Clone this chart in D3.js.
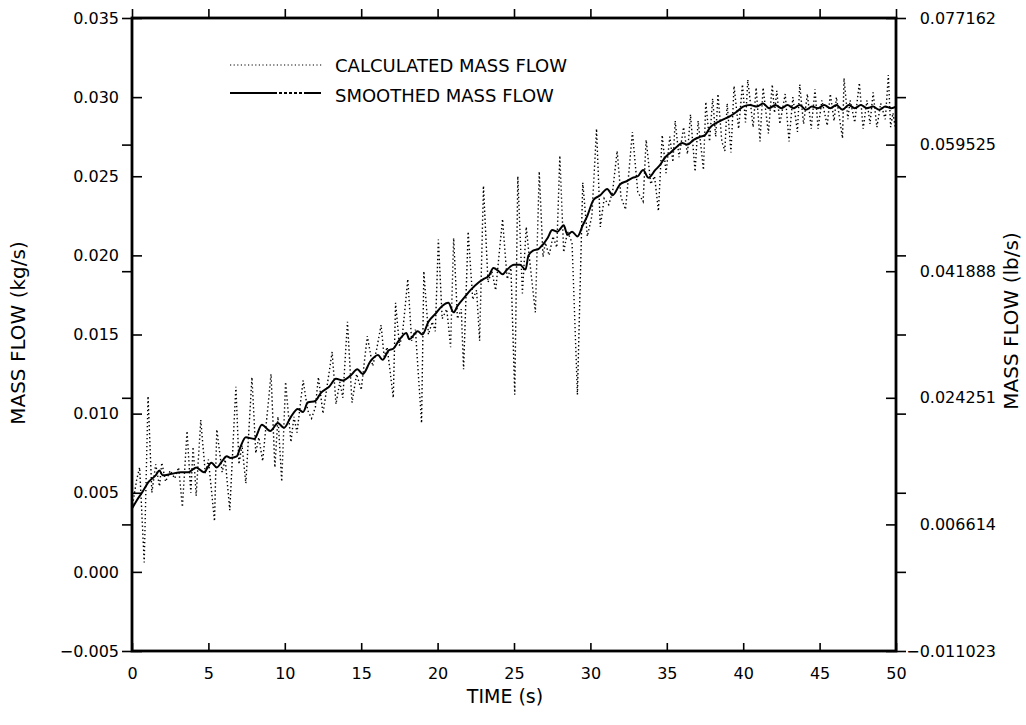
<!DOCTYPE html>
<html>
<head>
<meta charset="utf-8">
<script src="https://cdn.jsdelivr.net/npm/d3@7"></script>
<style>
  body { margin: 0; background: #fff; }
  text { font-family: "DejaVu Sans", sans-serif; fill: #000; }
</style>
</head>
<body>
<svg width="1026" height="725"></svg>
<script>
// calculated mass flow (kg/s) at peaks and troughs
const calcTime = [
  0.0, 0.3, 0.5, 0.8, 1.05, 1.3, 1.55, 1.8, 1.95, 2.2, 2.5, 2.8, 3.05, 3.3, 3.6, 3.85, 4.0, 4.2, 4.5, 4.8,
  5.0, 5.4, 5.55, 5.9, 6.1, 6.4, 6.8, 7.0, 7.2, 7.45, 7.85, 8.1, 8.3, 8.55, 9.1, 9.35, 9.55, 9.8, 10.05, 10.4,
  10.6, 10.8, 11.2, 11.5, 11.75, 12.0, 12.2, 12.5, 13.1, 13.35, 13.6, 13.8, 14.1, 14.4, 14.7, 15.0, 15.4, 15.75, 16.0, 16.3,
  16.5, 16.7, 17.1, 17.25, 17.5, 17.7, 18.05, 18.3, 18.55, 18.95, 19.1, 19.4, 19.65, 19.85, 20.05, 20.3, 20.6, 20.85, 21.05, 21.3,
  21.55, 21.7, 22.0, 22.3, 22.55, 22.75, 23.0, 23.3, 23.55, 23.8, 24.25, 24.55, 24.8, 25.05, 25.25, 25.55, 25.8, 26.1, 26.4, 26.65,
  26.9, 27.05, 27.3, 27.55, 27.8, 28.0, 28.25, 28.5, 28.8, 29.15, 29.5, 29.8, 30.1, 30.4, 30.65, 30.9, 31.2, 31.45, 31.75, 32.0,
  32.3, 32.75, 33.1, 33.45, 33.65, 33.95, 34.2, 34.45, 34.7, 34.95, 35.2, 35.4, 35.55, 35.8, 36.1, 36.35, 36.55, 36.85, 37.05, 37.4,
  37.55, 37.8, 38.0, 38.2, 38.35, 38.6, 38.8, 38.95, 39.2, 39.4, 39.7, 39.95, 40.15, 40.3, 40.65, 40.85, 41.1, 41.3, 41.65, 41.9,
  42.05, 42.2, 42.4, 42.75, 43.0, 43.25, 43.55, 43.7, 43.95, 44.2, 44.45, 44.7, 44.9, 45.15, 45.5, 45.7, 45.95, 46.1, 46.5, 46.6,
  46.85, 47.0, 47.3, 47.6, 47.85, 48.1, 48.3, 48.5, 48.75, 49.0, 49.3, 49.5, 49.65, 49.8, 50.0
];
const calcFlow = [
  0.0040, 0.0058, 0.0066, 0.0006, 0.0111, 0.0050, 0.0068, 0.0054, 0.0069, 0.0057, 0.0064, 0.0059, 0.0066, 0.0041, 0.0089, 0.0050, 0.0079, 0.0048, 0.0096, 0.0062,
  0.0071, 0.0032, 0.0090, 0.0063, 0.0071, 0.0039, 0.0117, 0.0068, 0.0080, 0.0056, 0.0123, 0.0075, 0.0085, 0.0070, 0.0125, 0.0066, 0.0098, 0.0057, 0.0120, 0.0082,
  0.0098, 0.0088, 0.0121, 0.0102, 0.0097, 0.0104, 0.0123, 0.0100, 0.0139, 0.0106, 0.0120, 0.0110, 0.0158, 0.0107, 0.0125, 0.0115, 0.0149, 0.0130, 0.0140, 0.0156,
  0.0136, 0.0142, 0.0110, 0.0170, 0.0143, 0.0150, 0.0185, 0.0146, 0.0153, 0.0094, 0.0190, 0.0150, 0.0158, 0.0152, 0.0210, 0.0160, 0.0166, 0.0142, 0.0211, 0.0160,
  0.0166, 0.0128, 0.0215, 0.0172, 0.0178, 0.0146, 0.0244, 0.0183, 0.0190, 0.0178, 0.0223, 0.0185, 0.0192, 0.0112, 0.0250, 0.0176, 0.0218, 0.0190, 0.0164, 0.0253,
  0.0199, 0.0208, 0.0200, 0.0212, 0.0205, 0.0263, 0.0202, 0.0215, 0.0208, 0.0112, 0.0246, 0.0212, 0.0225, 0.0280, 0.0218, 0.0236, 0.0232, 0.0240, 0.0266, 0.0237,
  0.0229, 0.0278, 0.0240, 0.0234, 0.0273, 0.0245, 0.0250, 0.0228, 0.0276, 0.0252, 0.0275, 0.0259, 0.0285, 0.0262, 0.0281, 0.0264, 0.0289, 0.0253, 0.0285, 0.0254,
  0.0297, 0.0272, 0.0299, 0.0275, 0.0302, 0.0272, 0.0266, 0.0296, 0.0265, 0.0307, 0.0280, 0.0308, 0.0284, 0.0311, 0.0281, 0.0306, 0.0272, 0.0306, 0.0277, 0.0308,
  0.0290, 0.0304, 0.0283, 0.0302, 0.0272, 0.0300, 0.0278, 0.0308, 0.0283, 0.0302, 0.0280, 0.0305, 0.0280, 0.0298, 0.0282, 0.0302, 0.0285, 0.0300, 0.0274, 0.0312,
  0.0286, 0.0298, 0.0284, 0.0309, 0.0280, 0.0298, 0.0283, 0.0303, 0.0281, 0.0296, 0.0286, 0.0314, 0.0281, 0.0290, 0.0278
];

// smoothed mass flow (kg/s)
const smoothTime = [
  0.0, 0.3, 0.65, 1.1, 1.55, 1.8, 2.0, 2.6, 3.2, 3.7, 4.2, 4.7, 5.2, 5.55, 5.9, 6.2, 6.45, 6.85, 7.1, 7.45,
  8.0, 8.5, 9.05, 9.55, 9.95, 10.4, 10.85, 11.2, 11.5, 12.0, 12.35, 12.9, 13.35, 13.8, 14.3, 14.75, 15.1, 15.6, 16.1, 16.4,
  16.8, 17.1, 17.45, 17.95, 18.15, 18.7, 19.0, 19.4, 19.85, 20.3, 20.7, 21.05, 21.3, 21.8, 22.15, 22.7, 23.0, 23.35, 23.65, 24.0,
  24.25, 24.55, 25.0, 25.4, 25.75, 25.95, 26.25, 26.6, 26.9, 27.2, 27.5, 27.85, 28.05, 28.25, 28.5, 28.8, 29.15, 29.5, 29.8, 30.2,
  30.65, 31.1, 31.45, 31.95, 32.4, 32.75, 33.1, 33.45, 33.8, 34.25, 34.55, 34.9, 35.25, 35.7, 36.0, 36.35, 36.75, 37.2, 37.5, 37.85,
  38.3, 38.7, 39.15, 39.6, 40.0, 40.45, 40.9, 41.3, 41.7, 42.1, 42.5, 42.9, 43.3, 43.7, 44.1, 44.5, 44.9, 45.3, 45.7, 46.1,
  46.5, 46.9, 47.3, 47.7, 48.1, 48.5, 48.9, 49.3, 49.7, 50.0
];
const smoothFlow = [
  0.0040, 0.0045, 0.0050, 0.0057, 0.0061, 0.0064, 0.0061, 0.0062, 0.0063, 0.0063, 0.0066, 0.0063, 0.0069, 0.0066, 0.0070, 0.0073, 0.0072, 0.0073, 0.0079, 0.0085,
  0.0084, 0.0093, 0.0089, 0.0094, 0.0091, 0.0098, 0.0103, 0.0101, 0.0107, 0.0108, 0.0113, 0.0117, 0.0122, 0.0121, 0.0124, 0.0128, 0.0125, 0.0133, 0.0137, 0.0134,
  0.0140, 0.0141, 0.0146, 0.0151, 0.0147, 0.0152, 0.0150, 0.0158, 0.0163, 0.0168, 0.0170, 0.0164, 0.0168, 0.0174, 0.0178, 0.0183, 0.0185, 0.0187, 0.0192, 0.0190,
  0.0188, 0.0191, 0.0194, 0.0194, 0.0191, 0.0200, 0.0203, 0.0204, 0.0207, 0.0211, 0.0216, 0.0215, 0.0217, 0.0219, 0.0213, 0.0215, 0.0212, 0.0219, 0.0225, 0.0235,
  0.0238, 0.0242, 0.0238, 0.0245, 0.0247, 0.0249, 0.0250, 0.0254, 0.0249, 0.0254, 0.0257, 0.0262, 0.0265, 0.0269, 0.0271, 0.0270, 0.0273, 0.0275, 0.0276, 0.0281,
  0.0284, 0.0286, 0.0288, 0.0291, 0.0294, 0.0295, 0.0294, 0.0296, 0.0293, 0.0295, 0.0293, 0.0295, 0.0293, 0.0295, 0.0292, 0.0294, 0.0293, 0.0295, 0.0293, 0.0295,
  0.0292, 0.0295, 0.0293, 0.0295, 0.0293, 0.0294, 0.0292, 0.0294, 0.0293, 0.0294
];

const xTicks = [0, 5, 10, 15, 20, 25, 30, 35, 40, 45, 50];
const leftTicks = [-0.005, 0.000, 0.005, 0.010, 0.015, 0.020, 0.025, 0.030, 0.035];
const rightTicks = [-0.011023, 0.006614, 0.024251, 0.041888, 0.059525, 0.077162];
const seriesNames = ["CALCULATED MASS FLOW", "SMOOTHED MASS FLOW"];

const svg = d3.select("svg");
const plotL = 132, plotR = 896, plotT = 18, plotB = 651;

const x = d3.scaleLinear().domain([0, 50]).range([plotL, plotR]);
const y = d3.scaleLinear().domain([-0.005, 0.035]).range([plotB, plotT]);
// lb/s axis on the right, same span as the kg/s axis
const yR = d3.scaleLinear().domain([-0.011023, 0.077162]).range([plotB, plotT]);
// where the right-axis ticks fall on the kg/s scale and vice versa
const rightInKg = rightTicks.map(d => y.invert(yR(d)));
const leftInLb = leftTicks.map(d => yR.invert(y(d)));

const noDomain = g => g.select(".domain").remove();

// bottom axis: inward ticks with labels
svg.append("g")
    .attr("transform", `translate(0,${plotB})`)
    .call(d3.axisBottom(x).tickValues(xTicks).tickFormat(d3.format("d"))
        .tickSizeInner(-8).tickSizeOuter(0).tickPadding(17))
    .call(noDomain)
    .call(g => g.selectAll("line").attr("stroke-width", 1.6))
    .call(g => g.selectAll("text").attr("font-size", 16).attr("font-family", "DejaVu Sans"));

// top axis: outward ticks
svg.append("g")
    .attr("transform", `translate(0,${plotT})`)
    .call(d3.axisTop(x).tickValues(xTicks).tickFormat("").tickSizeInner(9).tickSizeOuter(0))
    .call(noDomain)
    .call(g => g.selectAll("line").attr("stroke-width", 1.6));

// left axis: inward ticks with labels
svg.append("g")
    .attr("transform", `translate(${plotL},0)`)
    .call(d3.axisLeft(y).tickValues(leftTicks).tickFormat(d3.format(".3f"))
        .tickSizeInner(-10).tickSizeOuter(0).tickPadding(13))
    .call(noDomain)
    .call(g => g.selectAll("line").attr("stroke-width", 1.6))
    .call(g => g.selectAll("text").attr("font-size", 16).attr("font-family", "DejaVu Sans"));

// left axis: outward ticks at the lb/s positions
svg.append("g")
    .attr("transform", `translate(${plotL},0)`)
    .call(d3.axisLeft(y).tickValues(rightInKg).tickFormat("").tickSizeInner(10).tickSizeOuter(0))
    .call(noDomain)
    .call(g => g.selectAll("line").attr("stroke-width", 1.6));

// right axis: inward ticks with lb/s labels
svg.append("g")
    .attr("transform", `translate(${plotR},0)`)
    .call(d3.axisRight(yR).tickValues(rightTicks).tickFormat(d3.format(".6f"))
        .tickSizeInner(-10).tickSizeOuter(0))
    .call(noDomain)
    .call(g => g.selectAll("line").attr("stroke-width", 1.6))
    .call(g => g.selectAll("text").attr("font-size", 16).attr("font-family", "DejaVu Sans")
        .attr("text-anchor", "end").attr("x", 100));

// right axis: outward ticks at the kg/s positions
svg.append("g")
    .attr("transform", `translate(${plotR},0)`)
    .call(d3.axisRight(yR).tickValues(leftInLb).tickFormat("").tickSizeInner(10).tickSizeOuter(0))
    .call(noDomain)
    .call(g => g.selectAll("line").attr("stroke-width", 1.6));

// frame
svg.append("rect")
    .attr("x", plotL).attr("y", plotT)
    .attr("width", plotR - plotL).attr("height", plotB - plotT)
    .attr("fill", "none").attr("stroke", "#000").attr("stroke-width", 2.8);

// series
const calc = calcTime.map((t, i) => [t, calcFlow[i]]);
const smooth = smoothTime.map((t, i) => [t, smoothFlow[i]]);
const line = d3.line().x(d => x(d[0])).y(d => y(d[1]));
const smoothLine = d3.line().x(d => x(d[0])).y(d => y(d[1])).curve(d3.curveMonotoneX);

svg.append("path")
    .datum(calc)
    .attr("d", line)
    .attr("fill", "none")
    .attr("stroke", "#000")
    .attr("stroke-width", 1.4)
    .attr("stroke-dasharray", "1.4 2.6");

svg.append("path")
    .datum(smooth)
    .attr("d", smoothLine)
    .attr("fill", "none")
    .attr("stroke", "#000")
    .attr("stroke-width", 2)
    .attr("stroke-linejoin", "round");

// legend
const legend = svg.append("g");
legend.append("line")
    .attr("x1", 230).attr("x2", 322).attr("y1", 65).attr("y2", 65)
    .attr("stroke", "#000").attr("stroke-width", 1.2).attr("stroke-dasharray", "1.2 2.4");
legend.append("line")
    .attr("x1", 230).attr("x2", 322).attr("y1", 93).attr("y2", 93)
    .attr("stroke", "#000").attr("stroke-width", 1.8)
    .attr("stroke-dasharray", "47 2 3 2 3 2 3 2 3 2 3 2 17");
legend.selectAll("text")
    .data(seriesNames)
    .enter().append("text")
    .attr("x", 335)
    .attr("y", (d, i) => i === 0 ? 71.5 : 102)
    .attr("font-size", 18)
    .text(d => d);

// axis titles
svg.append("text")
    .attr("x", 505).attr("y", 703)
    .attr("text-anchor", "middle")
    .attr("font-size", 19)
    .text("TIME (s)");

svg.append("text")
    .attr("transform", "translate(25,333) rotate(-90)")
    .attr("text-anchor", "middle")
    .attr("font-size", 20)
    .text("MASS FLOW (kg/s)");

svg.append("text")
    .attr("transform", "translate(1018,321) rotate(-90)")
    .attr("text-anchor", "middle")
    .attr("font-size", 20)
    .text("MASS FLOW (lb/s)");
</script>
</body>
</html>
